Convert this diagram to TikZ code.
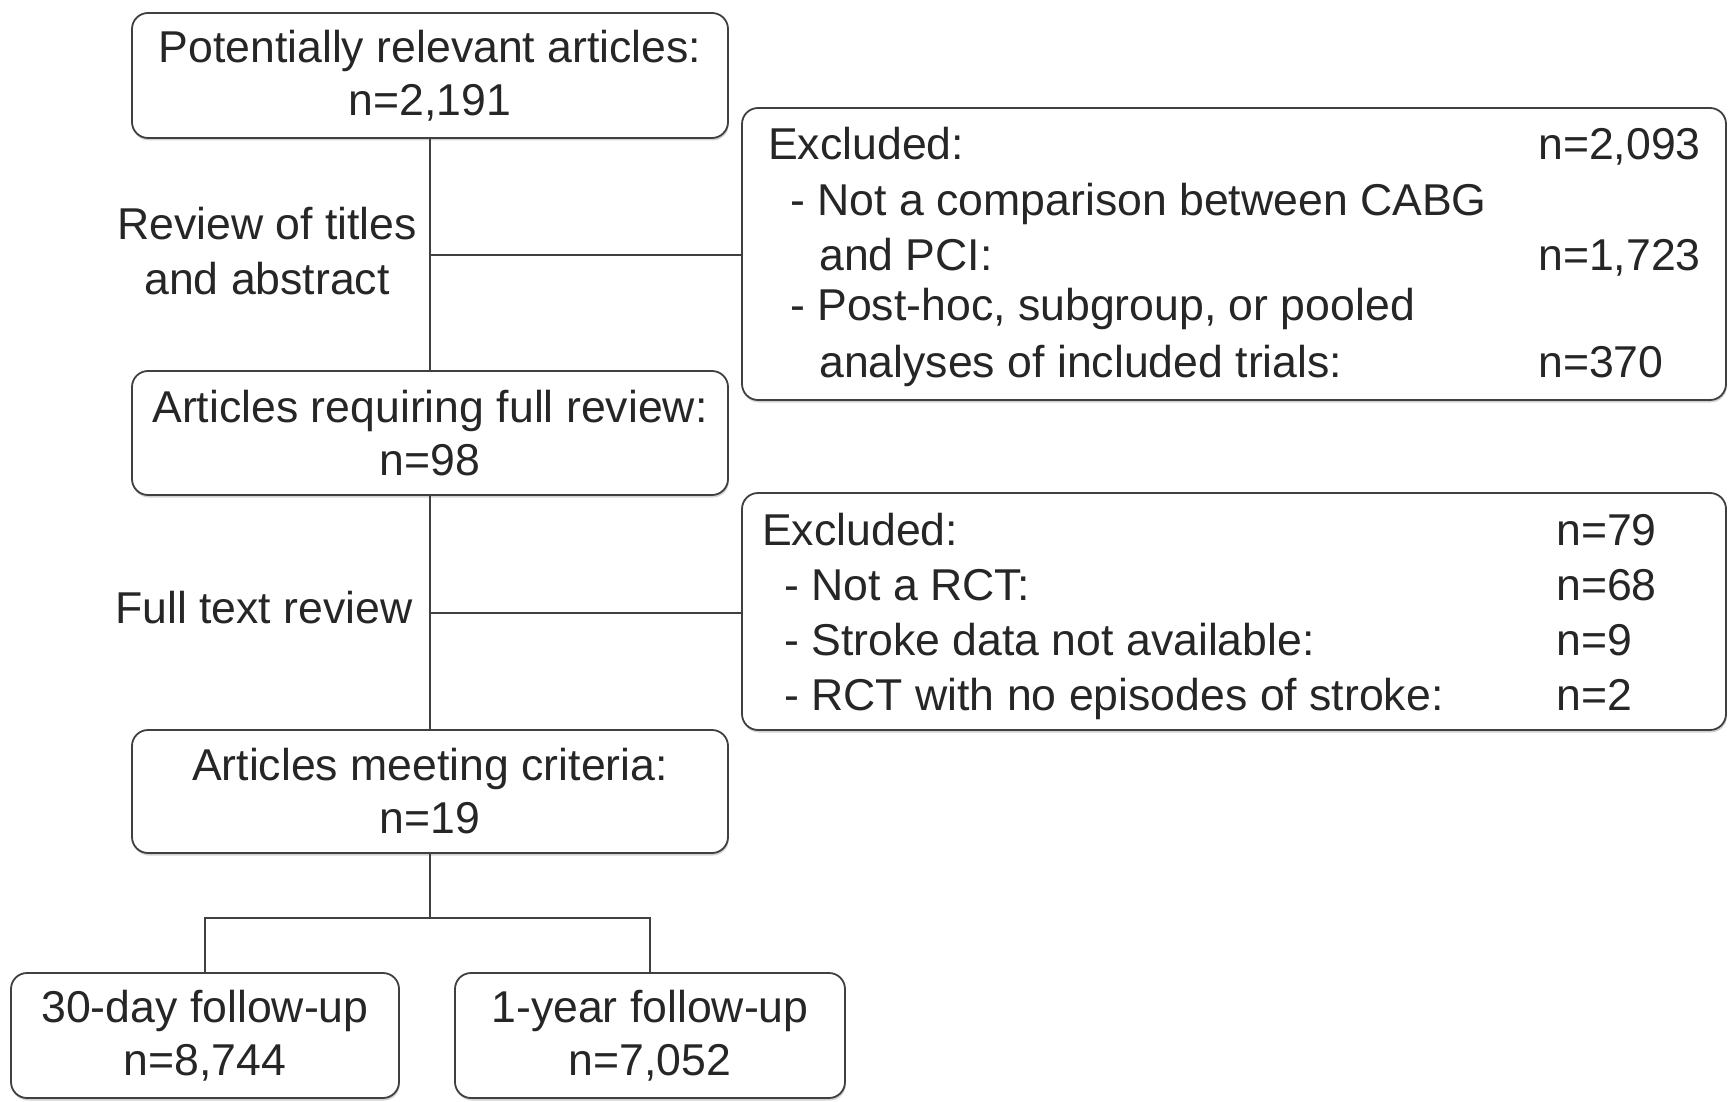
\documentclass[tikz,border=0pt]{standalone}
\usepackage{fontspec}
\setmainfont{Liberation Sans}
\usetikzlibrary{shadows}
\begin{document}
\begin{tikzpicture}[x=1pt,y=-1pt,
  box/.style={draw=black!75, line width=1.8pt, rounded corners=16pt, fill=white,
    align=center, inner sep=0pt, text=black!85,
    font=\fontsize{44.6}{53}\selectfont,
    drop shadow={shadow xshift=0.8pt, shadow yshift=-2.5pt, opacity=0.35}},
  txt/.style={inner sep=0pt, text=black!85, font=\fontsize{44.6}{55}\selectfont},
  exl/.style={txt, anchor=base west},
  conn/.style={draw=black!75, line width=1.8pt}]
\useasboundingbox (0,0) rectangle (1729,1102);

% main boxes
\node[box, minimum width=596pt, minimum height=125pt] (b1) at (430,75.5) {Potentially relevant articles:\\n=2,191};
\node[box, minimum width=596pt, minimum height=124pt] (b2) at (430,433) {Articles requiring full review:\\n=98};
\node[box, minimum width=596pt, minimum height=123pt] (b3) at (430,791.5) {Articles meeting criteria:\\n=19};
\node[box, minimum width=388pt, minimum height=125pt] (b4) at (205,1035.5) {30-day follow-up\\n=8,744};
\node[box, minimum width=390pt, minimum height=125pt] (b5) at (650,1035.5) {1-year follow-up\\n=7,052};

% exclusion boxes
\node[box, minimum width=984pt, minimum height=292pt] (e1) at (1234,254) {};
\node[box, minimum width=984pt, minimum height=237pt] (e2) at (1234,611.5) {};

% side labels
\node[txt, align=center] (r1) at (267,251) {Review of titles\\and abstract};
\node[txt, anchor=base] (r2) at (264,623) {Full text review};

% exclusion 1 text
\node[exl] (e1h)  at (768,160) {Excluded:};
\node[exl] (e1hn) at (1538,160) {n=2,093};
\node[exl] (e1a)  at (790,215) {- Not a comparison between CABG};
\node[exl] (e1a2) at (819,270) {and PCI:};
\node[exl] (e1an) at (1538,270) {n=1,723};
\node[exl] (e1b)  at (790,320) {- Post-hoc, subgroup, or pooled};
\node[exl] (e1b2) at (819,377) {analyses of included trials:};
\node[exl] (e1bn) at (1538,377) {n=370};

% exclusion 2 text
\node[exl] (e2h)  at (762,545) {Excluded:};
\node[exl] (e2hn) at (1556,545) {n=79};
\node[exl] (e2a)  at (784,600) {- Not a RCT:};
\node[exl] (e2an) at (1556,600) {n=68};
\node[exl] (e2b)  at (784,655) {- Stroke data not available:};
\node[exl] (e2bn) at (1556,655) {n=9};
\node[exl] (e2c)  at (784,710) {- RCT with no episodes of stroke:};
\node[exl] (e2cn) at (1556,710) {n=2};

% connectors
\coordinate (j1) at (430,255);
\coordinate (j2) at (430,613);
\coordinate (j3) at (430,918);
\draw[conn] (b1.south) -- (b2.north);
\draw[conn] (j1) -- (j1 -| e1.west);
\draw[conn] (b2.south) -- (b3.north);
\draw[conn] (j2) -- (j2 -| e2.west);
\draw[conn] (b3.south) -- (j3);
\draw[conn] (b4.north) -- (b4.north |- j3) -- (b5.north |- j3) -- (b5.north);
\end{tikzpicture}
\end{document}
